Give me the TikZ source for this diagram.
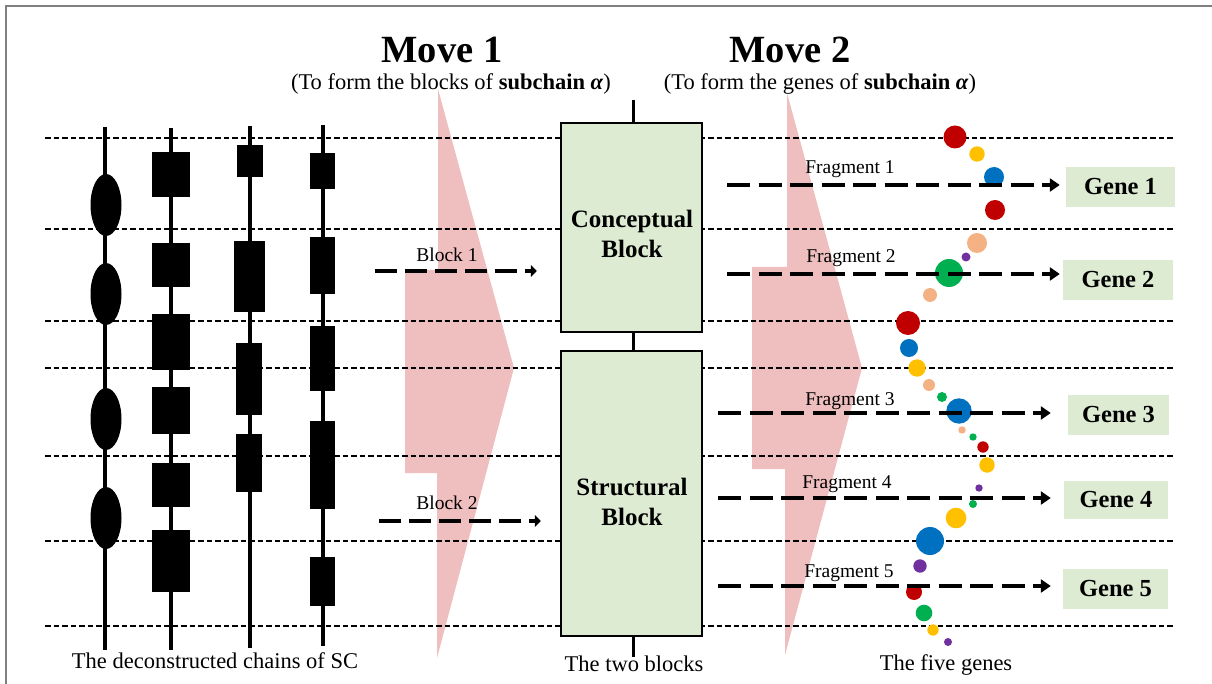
\documentclass[tikz,border=0pt]{standalone}
\usepackage{fontspec}
\setmainfont{Liberation Serif}
\usetikzlibrary{arrows.meta}

\definecolor{pinkarrow}{RGB}{239,190,190}
\definecolor{boxgreen}{RGB}{221,235,211}
\definecolor{framegray}{RGB}{128,128,128}
\definecolor{dotred}{RGB}{192,0,0}
\definecolor{dotyellow}{RGB}{255,192,0}
\definecolor{dotblue}{RGB}{0,112,192}
\definecolor{dotgreen}{RGB}{0,176,80}
\definecolor{dotpeach}{RGB}{244,177,131}
\definecolor{dotpurple}{RGB}{112,48,160}

\begin{document}
\begin{tikzpicture}[x=1pt,y=-1pt,
  guide/.style={line width=1.3pt, dash pattern=on 5.5pt off 3pt},
  chainline/.style={line width=3.5pt},
  blockarrow/.style={line width=3.4pt, dash pattern=on 22pt off 8pt,
    -{Triangle[length=6pt,width=12pt]}},
  fragarrow/.style={line width=3.4pt, dash pattern=on 23pt off 8.5pt,
    -{Triangle[length=10pt,width=13pt]}},
  bigbox/.style={draw, line width=2.5pt, fill=boxgreen, minimum width=141pt, inner sep=0pt},
  boxtext/.style={font=\bfseries\fontsize{25}{30}\selectfont, align=center, inner sep=0pt},
  genebox/.style={fill=boxgreen, font=\bfseries\fontsize{24.5}{29}\selectfont, inner sep=0pt},
  movetitle/.style={font=\bfseries\fontsize{38.5}{46}\selectfont, anchor=base, inner sep=0pt},
  caption/.style={font=\fontsize{22.5}{27}\selectfont, anchor=base, inner sep=0pt},
  lbl/.style={font=\fontsize{19.5}{23}\selectfont, anchor=base, inner sep=0pt}]

\useasboundingbox (0,0) rectangle (1212,684);

% outer frame (top and left edges visible)
\draw[framegray, line width=2pt] (6,700) -- (6,6) -- (1230,6);

% broad pink arrows of the two moves
\fill[pinkarrow] (438,89) -- (514,368) -- (437,658) -- (437,473) -- (405,473)
  -- (405,270) -- (438,270) -- cycle;
\fill[pinkarrow] (787,93) -- (862,368) -- (785,655) -- (785,469) -- (752,469)
  -- (752,267) -- (787,267) -- cycle;

% horizontal guide lines
\foreach \yy in {138,229,321,368,456,541,626}
  \draw[guide] (45,\yy) -- (1173,\yy);

% chain 1: ellipses
\draw[chainline] (105,127) -- (105,650);
\foreach \yy in {205,294,419,518}
  \fill (106,\yy) ellipse [x radius=15.5pt, y radius=31pt];

% chain 2
\draw[chainline] (171,128) -- (171,650);
\foreach \ya/\yb in {152/197,243/287,314/370,387/434,463/507,530/592}
  \fill (152,\ya) rectangle (190,\yb);

% chain 3
\draw[chainline] (250,126) -- (250,648);
\fill (237,145) rectangle (263,177);
\fill (234,241) rectangle (265,312);
\fill (236,343) rectangle (262,415);
\fill (236,434) rectangle (262,492);

% chain 4
\draw[chainline] (323,125) -- (323,646);
\foreach \ya/\yb in {153/189,237/294,326/391,421/509,557/606}
  \fill (310,\ya) rectangle (335,\yb);

% titles
\node[movetitle] (m1) at (442,63) {Move 1};
\node[caption] (m1s) at (451,90) {(To form the blocks of \textbf{subchain \textit{α}})};
\node[movetitle] (m2) at (790,63) {Move 2};
\node[caption] (m2s) at (820,90) {(To form the genes of \textbf{subchain \textit{α}})};

% central spine and the two blocks
\draw[line width=3pt] (633,100) -- (633,657);
\node[bigbox, minimum height=209pt] (cb) at (631.5,227.5) {};
\node[bigbox, minimum height=285pt] (sb) at (631.5,493.5) {};
\node[boxtext] (cbt) at (632,233.5) {Conceptual\\Block};
\node[boxtext] (sbt) at (632,502) {Structural\\Block};

% block arrows
\coordinate (b1s) at (375,271);
\coordinate (b2s) at (379,521);
\draw[blockarrow, shorten >=23pt] (b1s) -- (b1s -| cb.west);
\draw[blockarrow, shorten >=19pt] (b2s) -- (b2s -| sb.west);
\node[lbl] (b1l) at (447,262) {Block 1};
\node[lbl] (b2l) at (447,509) {Block 2};

% beads of the gene chain
\foreach \px/\py/\r/\c in {
  955/137/11.5/dotred, 977/154/7.7/dotyellow, 994/177/10/dotblue,
  995/210/10/dotred, 977/243/10/dotpeach, 966/257/4.5/dotpurple,
  949/273/14/dotgreen, 930/295/7/dotpeach, 908/323/12/dotred,
  909/348/9/dotblue, 917/368/8.7/dotyellow, 929/385/6/dotpeach,
  942/397/5/dotgreen, 959/411/12.7/dotblue, 962/430/3.7/dotpeach,
  973/437/3.7/dotgreen, 983/447/5.7/dotred, 987/465/7.7/dotyellow,
  979/488/3.7/dotpurple, 973/504/4/dotgreen, 956/518/10.3/dotyellow,
  930/541/14/dotblue, 920/566/6.7/dotpurple, 914/592/8/dotred,
  924/613/8.3/dotgreen, 933/630/5.7/dotyellow, 948/642/4/dotpurple}
  \fill[\c] (\px,\py) circle[radius=\r pt];

% gene boxes
\node[genebox, minimum width=109pt, minimum height=40pt] (g1) at (1120.5,187) {Gene 1};
\node[genebox, minimum width=110pt, minimum height=40pt] (g2) at (1118,280) {Gene 2};
\node[genebox, minimum width=101pt, minimum height=40pt] (g3) at (1118.5,415) {Gene 3};
\node[genebox, minimum width=104pt, minimum height=38pt] (g4) at (1116,500) {Gene 4};
\node[genebox, minimum width=105pt, minimum height=40pt] (g5) at (1115.5,589) {Gene 5};

% fragment arrows
\coordinate (f1s) at (727,185);
\coordinate (f2s) at (727,274);
\coordinate (f3s) at (718,413);
\coordinate (f4s) at (718,498);
\coordinate (f5s) at (718,586);
\draw[fragarrow, shorten >=6pt] (f1s) -- (f1s -| g1.west);
\draw[fragarrow, shorten >=3pt] (f2s) -- (f2s -| g2.west);
\draw[fragarrow, shorten >=17pt] (f3s) -- (f3s -| g3.west);
\draw[fragarrow, shorten >=13pt] (f4s) -- (f4s -| g4.west);
\draw[fragarrow, shorten >=12pt] (f5s) -- (f5s -| g5.west);
\node[lbl] (f1l) at (850,174) {Fragment 1};
\node[lbl] (f2l) at (851,263) {Fragment 2};
\node[lbl] (f3l) at (850,405) {Fragment 3};
\node[lbl] (f4l) at (847,488) {Fragment 4};
\node[lbl] (f5l) at (849,577) {Fragment 5};

% captions
\node[caption] (c1) at (215,668) {The deconstructed chains of SC};
\node[caption] (c2) at (634,671) {The two blocks};
\node[caption] (c3) at (946,670) {The five genes};
\end{tikzpicture}
\end{document}
